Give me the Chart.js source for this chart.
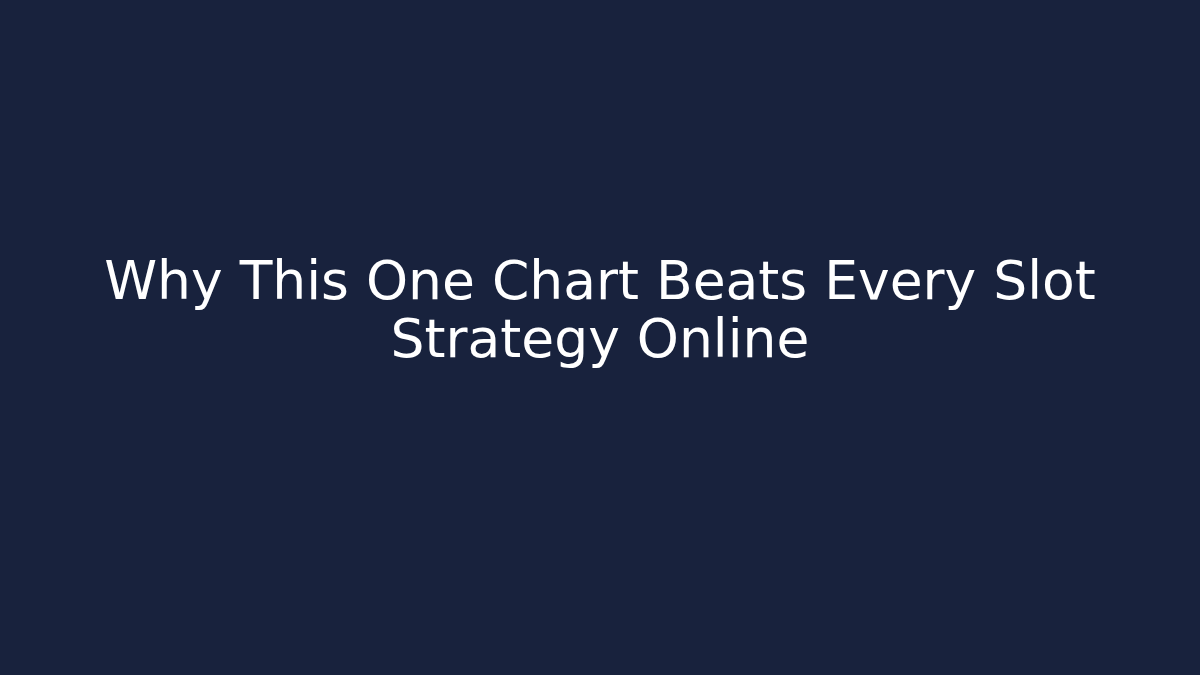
<!DOCTYPE html>
<html>
<head>
<meta charset="utf-8">
<title>Why This One Chart Beats Every Slot Strategy Online</title>
<script src="https://cdn.jsdelivr.net/npm/chart.js@4.4.1/dist/chart.umd.min.js"></script>
<style>
  html, body { margin: 0; padding: 0; background: #18223d; }
  #wrap { width: 1200px; height: 675px; position: relative; }
</style>
</head>
<body>
<div id="wrap"><canvas id="card"></canvas></div>
<script>
// Title card: no series, just the heading lines
const titleLines = ['Why This One Chart Beats Every Slot', 'Strategy Online'];
const labels = [];
const values = [];

const ctx = document.getElementById('card');
const card = new Chart(ctx, {
  type: 'bar',
  data: {
    labels: labels,
    datasets: [{ data: values }]
  },
  options: {
    responsive: true,
    maintainAspectRatio: false,
    animation: false,
    layout: { padding: 0 },
    scales: {
      x: { display: false },
      y: { display: false }
    },
    plugins: {
      legend: { display: false },
      tooltip: { enabled: false },
      title: {
        display: true,
        text: titleLines,
        color: '#ffffff',
        font: { family: 'DejaVu Sans', size: 53.5, weight: 'normal', lineHeight: 1.09 },
        padding: { top: 256, bottom: 0 }
      }
    }
  }
});
</script>
</body>
</html>
